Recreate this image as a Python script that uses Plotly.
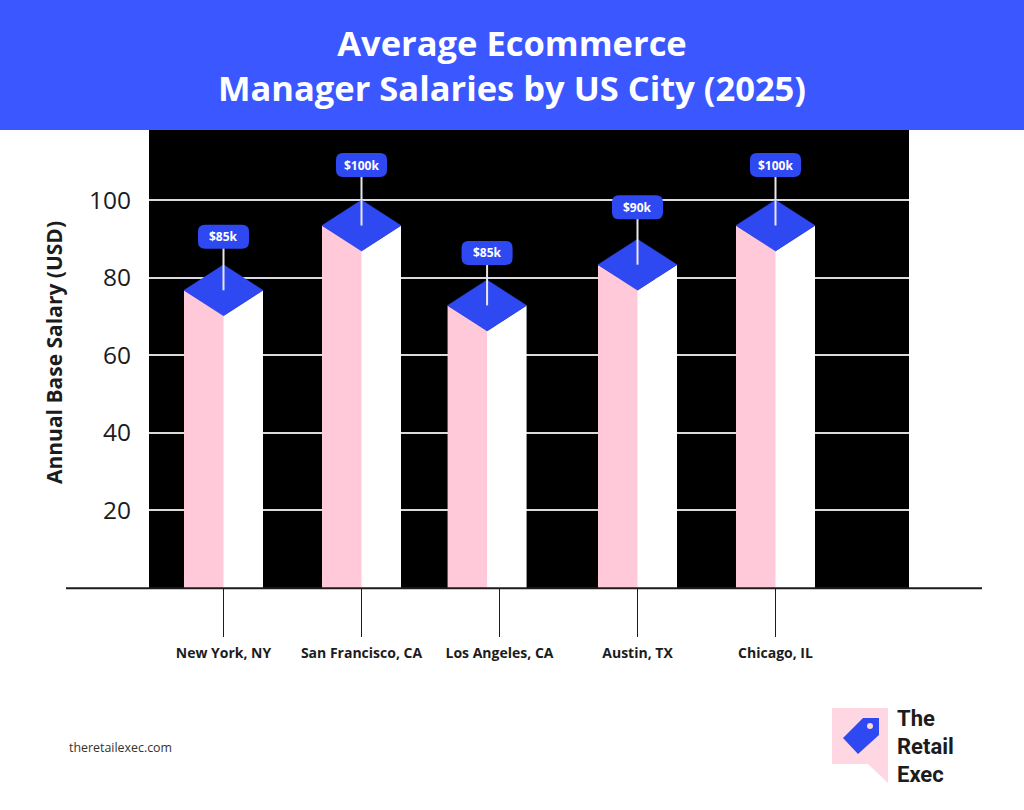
import plotly.graph_objects as go

cities = ["New York, NY", "San Francisco, CA", "Los Angeles, CA", "Austin, TX", "Chicago, IL"]
bar_tops = [83.3, 100, 79.4, 89.9, 100]
salary_labels = ["$85k", "$100k", "$85k", "$90k", "$100k"]
y_ticks = [20, 40, 60, 80, 100]

WIDTH = 1024
HEIGHT = 810
LEFT, RIGHT, TOP, BOTTOM = 149, 115, 130, 222
PX_PER_X = 138
PX_PER_Y = 3.88

BLUE = "#3B57FF"
TOP_BLUE = "#2F49F2"
PINK = "#FFC9DA"
LOGO_PINK = "#FFD7E2"
INK = "#1c1c1c"
GRID = "#DADADA"

# the LA bar sits a bit left of its tick in the original
bar_nudge = [0, 0, -0.09, 0, 0]
pill_lift = [28, 35, 27, 32, 35]

half_w = 39.5 / PX_PER_X
half_h = 25.5 / PX_PER_Y
seam = 1 / PX_PER_X


def page_x(px):
    return (px - LEFT) / (WIDTH - LEFT - RIGHT)


def page_y(py):
    return 1 - (py - TOP) / (HEIGHT - TOP - BOTTOM)


def page_path(points):
    coords = [f"{page_x(x):.5f},{page_y(y):.5f}" for x, y in points]
    return "M" + " L".join(coords) + " Z"


def pill_path(w, h, r):
    x, y = w / 2, h / 2
    return (
        f"M{-x + r},{-y} L{x - r},{-y} Q{x},{-y} {x},{-y + r} L{x},{y - r} Q{x},{y} {x - r},{y} "
        f"L{-x + r},{y} Q{-x},{y} {-x},{y - r} L{-x},{-y + r} Q{-x},{-y} {-x + r},{-y} Z"
    )


fig = go.Figure()
shapes = []
annotations = []

for i, top in enumerate(bar_tops):
    cx = i + bar_nudge[i]
    edge = top - half_h
    front = top - 2 * half_h

    # pink runs a pixel under the white face so no seam shows
    fig.add_trace(go.Scatter(
        x=[cx - half_w, cx - half_w, cx + seam, cx + seam, cx - half_w], y=[0, edge, front, 0, 0],
        mode="lines", line={"width": 0}, fill="toself", fillcolor=PINK, name=cities[i],
    ))
    fig.add_trace(go.Scatter(
        x=[cx, cx, cx + half_w, cx + half_w, cx], y=[0, front, edge, 0, 0],
        mode="lines", line={"width": 0}, fill="toself", fillcolor="#FFFFFF", name=cities[i],
    ))
    fig.add_trace(go.Scatter(
        x=[cx - half_w, cx, cx + half_w, cx, cx - half_w], y=[edge, top, edge, front, edge],
        mode="lines", line={"width": 0.5, "color": TOP_BLUE}, fill="toself", fillcolor=TOP_BLUE, name=cities[i],
    ))

    pill_y = top + pill_lift[i] / PX_PER_Y
    fig.add_trace(go.Scatter(
        x=[cx, cx], y=[edge, pill_y], mode="lines", line={"width": 2, "color": "#E8E8E8"}, name=cities[i],
    ))
    shapes.append(dict(
        type="path", xref="x", yref="y", xsizemode="pixel", ysizemode="pixel",
        xanchor=cx, yanchor=pill_y, path=pill_path(51, 24, 7),
        fillcolor=TOP_BLUE, line={"width": 0}, layer="above",
    ))
    annotations.append(dict(
        x=cx, y=pill_y, xref="x", yref="y", text=salary_labels[i], showarrow=False,
        font={"family": "Open Sans", "size": 12, "color": "#FFFFFF", "weight": 700},
    ))

# header band, baseline and logo
shapes.append(dict(
    type="rect", xref="paper", yref="paper", x0=page_x(0), x1=page_x(WIDTH), y0=page_y(130), y1=page_y(0),
    fillcolor=BLUE, line={"width": 0}, layer="above",
))
shapes.append(dict(
    type="line", xref="paper", yref="paper", x0=page_x(66), x1=page_x(982), y0=page_y(588.3), y1=page_y(588.3),
    line={"color": INK, "width": 2}, layer="above",
))
shapes.append(dict(
    type="path", xref="paper", yref="paper", fillcolor=LOGO_PINK, line={"width": 0}, layer="above",
    path=page_path([(832, 708), (888, 708), (888, 783), (868, 764), (832, 764)]),
))
shapes.append(dict(
    type="path", xref="paper", yref="paper", fillcolor=TOP_BLUE, line={"width": 0}, layer="above",
    path=page_path([(843, 738), (863, 718), (879, 718), (879, 735), (858, 754)]),
))
shapes.append(dict(
    type="circle", xref="paper", yref="paper", fillcolor=LOGO_PINK, line={"width": 0}, layer="above",
    x0=page_x(867), x1=page_x(873), y0=page_y(729), y1=page_y(723),
))

for word, py in zip(["The", "Retail", "Exec"], [718, 746, 774]):
    annotations.append(dict(
        x=page_x(895), y=page_y(py), xref="paper", yref="paper", xanchor="left", yanchor="middle",
        text=word, showarrow=False,
        font={"family": "Roboto", "size": 22, "color": INK, "weight": 700},
    ))

annotations.append(dict(
    x=page_x(67), y=page_y(747), xref="paper", yref="paper", xanchor="left", yanchor="middle",
    text="theretailexec.com", showarrow=False,
    font={"family": "Open Sans", "size": 12.4, "color": "#333333"},
))
annotations.append(dict(
    x=page_x(54), y=page_y(353), xref="paper", yref="paper", xanchor="center", yanchor="middle", textangle=-90,
    text="Annual Base Salary (USD)", showarrow=False,
    font={"family": "Open Sans", "size": 21, "color": INK, "weight": 700},
))

fig.update_layout(
    width=WIDTH,
    height=HEIGHT,
    margin={"l": LEFT, "r": RIGHT, "t": TOP, "b": BOTTOM},
    paper_bgcolor="#FFFFFF",
    plot_bgcolor="#000000",
    showlegend=False,
    hovermode=False,
    title={
        "text": "Average Ecommerce<br>Manager Salaries by US City (2025)",
        "x": 0.5,
        "xref": "container",
        "xanchor": "center",
        "y": 1 - 56 / HEIGHT,
        "yanchor": "middle",
        "font": {"family": "Open Sans", "size": 34.5, "color": "#FFFFFF", "weight": 700},
    },
    shapes=shapes,
    annotations=annotations,
)
fig.update_xaxes(
    range=[-74.5 / PX_PER_X, 4 + 133.5 / PX_PER_X],
    tickmode="array",
    tickvals=list(range(len(cities))),
    ticktext=cities,
    ticks="outside",
    ticklen=48,
    tickwidth=1,
    tickcolor=INK,
    ticklabelstandoff=4,
    showgrid=False,
    zeroline=False,
    tickfont={"family": "Open Sans", "size": 14, "color": INK, "weight": 700},
)
fig.update_yaxes(
    range=[0, 458 / PX_PER_Y],
    tickmode="array",
    tickvals=y_ticks,
    ticks="",
    ticklabelstandoff=17,
    showgrid=True,
    gridcolor=GRID,
    gridwidth=2,
    zeroline=False,
    tickfont={"family": "Open Sans", "size": 24.5, "color": INK},
)

fig.write_html("out.html", config={"displayModeBar": False}, post_script="document.body.style.margin='0';")
